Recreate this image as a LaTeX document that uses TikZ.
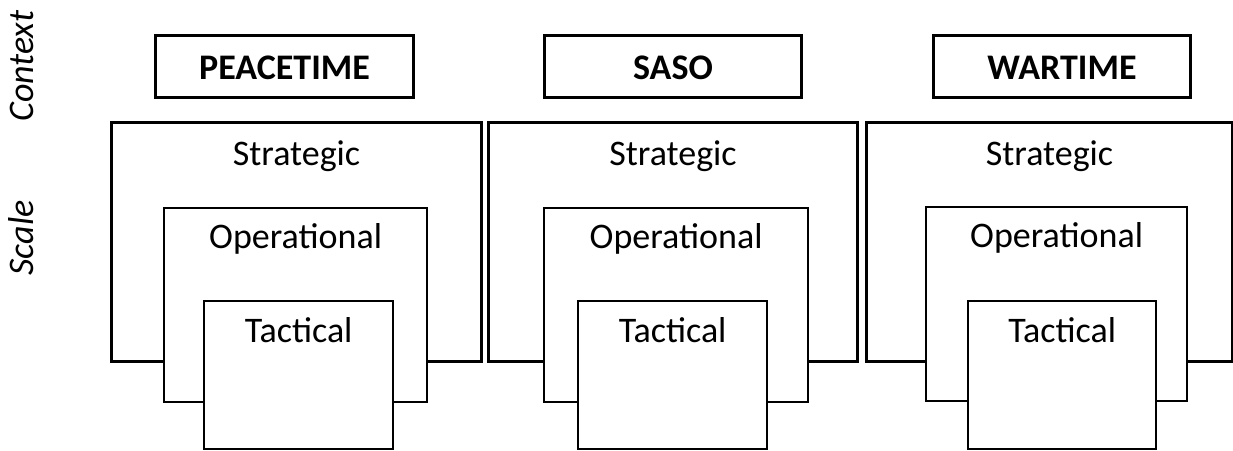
\documentclass[tikz,border=0pt]{standalone}
\usepackage{fontspec}
\setmainfont{Carlito}
\begin{document}
\begin{tikzpicture}[x=1pt,y=-1pt,
  ctxbox/.style={draw, line width=3pt, fill=white, inner sep=0pt, anchor=north west},
  stratbox/.style={draw, line width=3pt, fill=white, inner sep=0pt, anchor=north west},
  levelbox/.style={draw, line width=2.3pt, fill=white, inner sep=0pt, anchor=north west},
  ctxtext/.style={font=\fontsize{36}{40}\selectfont\bfseries, anchor=base, inner sep=0pt},
  lvltext/.style={font=\fontsize{36}{40}\selectfont, anchor=base, inner sep=0pt},
  axistext/.style={font=\fontsize{36}{40}\selectfont\itshape, rotate=90, anchor=base, inner sep=0pt}]
\useasboundingbox (0,0) rectangle (1233,450);

% axis labels
\node[axistext] (ctxlabel) at (33,66) {Context};
\node[axistext] (scalelabel) at (33,238) {Scale};

% context headings
\node[ctxbox, minimum width=258pt, minimum height=62pt] (c1) at (154,34) {};
\node[ctxbox, minimum width=257pt, minimum height=62pt] (c2) at (543,34) {};
\node[ctxbox, minimum width=257pt, minimum height=62pt] (c3) at (932,34) {};
\node[ctxtext] (c1t) at ([yshift=-12.5pt]c1.center) {PEACETIME};
\node[ctxtext] (c2t) at ([yshift=-12.5pt]c2.center) {SASO};
\node[ctxtext] (c3t) at ([yshift=-12.5pt]c3.center) {WARTIME};

% strategic level
\node[stratbox, minimum width=370pt, minimum height=239pt] (s1) at (110,121) {};
\node[stratbox, minimum width=369pt, minimum height=239pt] (s2) at (487,121) {};
\node[stratbox, minimum width=366pt, minimum height=239pt] (s3) at (865,121) {};
\foreach \i in {1,2,3}
  \node[lvltext] (s\i t) at ([yshift=-44pt]s\i.north) {Strategic};

% operational level
\node[levelbox, minimum width=263pt, minimum height=194pt] (o1) at (163,207) {};
\node[levelbox, minimum width=264pt, minimum height=194pt] (o2) at (543,207) {};
\node[levelbox, minimum width=261pt, minimum height=194pt] (o3) at (925,206) {};
\foreach \i in {1,2,3}
  \node[lvltext] (o\i t) at ([yshift=-41pt]o\i.north) {Operational};

% tactical level
\node[levelbox, minimum width=189pt, minimum height=148pt] (t1) at (203,300) {};
\node[levelbox, minimum width=189pt, minimum height=148pt] (t2) at (577,300) {};
\node[levelbox, minimum width=188pt, minimum height=148pt] (t3) at (967,300) {};
\foreach \i in {1,2,3}
  \node[lvltext] (t\i t) at ([yshift=-42pt]t\i.north) {Tactical};
\end{tikzpicture}
\end{document}
